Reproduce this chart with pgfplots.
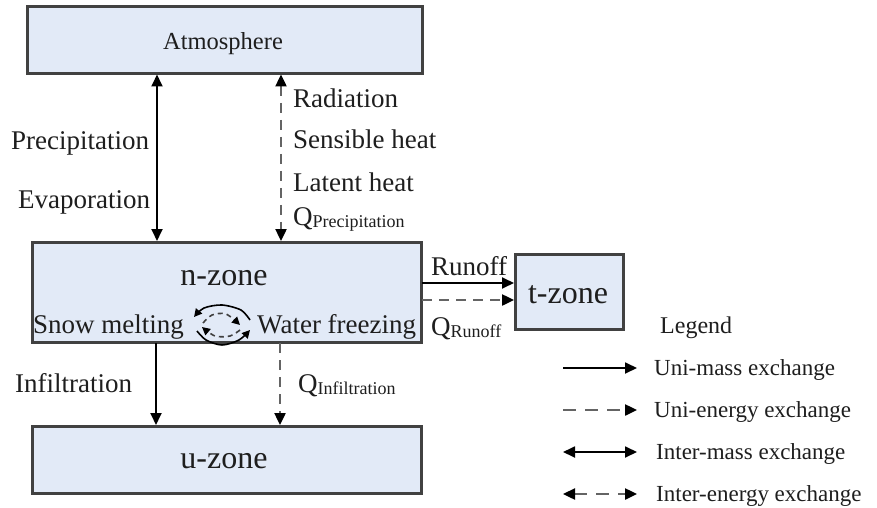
\documentclass[border=0pt]{standalone}
\usepackage{pgfplots}
\pgfplotsset{compat=1.18}
\usepackage{fontspec}
\setmainfont{Liberation Serif}
\usetikzlibrary{arrows.meta}
\definecolor{boxfill}{RGB}{226,234,247}
\definecolor{boxline}{RGB}{65,65,65}
\definecolor{txt}{RGB}{30,30,30}
\definecolor{dgray}{RGB}{100,100,100}
\newcommand\sub[1]{{\fontsize{18}{18}\selectfont\raisebox{-2.5pt}{#1}}}
\begin{document}
\begin{tikzpicture}[font=\fontsize{27}{30}\selectfont, text=txt]
\begin{axis}[width=877pt,height=508pt,scale only axis,
  xmin=0,xmax=877,ymin=0,ymax=508,y dir=reverse,hide axis,clip=false,
  every axis plot/.append style={mark=none},
  tip/.style={-{Triangle[length=12pt,width=11pt,color=black]}},
  tips/.style={{Triangle[length=12pt,width=11pt,color=black]}-{Triangle[length=12pt,width=11pt,color=black]}},
  stip/.style={-{Triangle[length=8pt,width=8pt,color=black]}},
  mass/.style={black,line width=1.8pt},
  energy/.style={dgray,line width=2.4pt,dash pattern=on 10pt off 7pt},
  legenergy/.style={dgray,line width=2.4pt,dash pattern=on 13pt off 9pt},
  zone/.style={fill=boxfill,draw=boxline,line width=3pt,line join=miter}]
% background
\addplot[fill=white,draw=none] coordinates {(0,0)(877,0)(877,508)(0,508)} -- cycle;
% boxes
\addplot[zone] coordinates {(27,7)(422,7)(422,74)(27,74)} -- cycle;
\addplot[zone] coordinates {(32,242)(421,242)(421,342)(32,342)} -- cycle;
\addplot[zone] coordinates {(32,426)(421,426)(421,493)(32,493)} -- cycle;
\addplot[zone] coordinates {(515,254)(623,254)(623,329)(515,329)} -- cycle;
% atmosphere <-> n-zone
\addplot[mass,tips] coordinates {(157,74.5)(157,241)};
\addplot[energy,tips] coordinates {(281,74.5)(281,241)};
% n-zone -> u-zone
\addplot[mass,tip] coordinates {(156,343)(156,425)};
\addplot[energy,tip] coordinates {(280,343)(280,425)};
% runoff
\addplot[mass,tip] coordinates {(422,283)(514,283)};
\addplot[energy,tip] coordinates {(422,300)(514,300)};
% phase change cycle
\addplot[black,line width=1.6pt,smooth,stip] coordinates {(250,320)(241,310)(222,305)(204,308)(194,317)};
\addplot[black,line width=1.6pt,smooth,stip] coordinates {(197,331)(206,340)(222,345)(239,340)(250,330)};
\addplot[black!75,line width=1.6pt,smooth,dash pattern=on 5pt off 4pt,stip] coordinates {(203,323)(212,315)(226,314)(240,325)};
\addplot[black!75,line width=1.6pt,smooth,dash pattern=on 5pt off 4pt,stip] coordinates {(240,330)(230,336)(215,336)(202,327)};
% legend arrows
\addplot[mass,tip] coordinates {(563,368)(637,368)};
\addplot[legenergy,tip] coordinates {(563,410)(637,410)};
\addplot[mass,tips] coordinates {(563,452)(637,452)};
\addplot[legenergy,tips] coordinates {(563,494)(637,494)};
% texts
\node[anchor=base,inner sep=0,font=\fontsize{24.5}{28}\selectfont] at (axis cs:223,50) {Atmosphere};
\node[anchor=base west,inner sep=0] at (axis cs:11,149) {Precipitation};
\node[anchor=base west,inner sep=0] at (axis cs:18,208) {Evaporation};
\node[anchor=base west,inner sep=0] at (axis cs:293,107) {Radiation};
\node[anchor=base west,inner sep=0] at (axis cs:293,148) {Sensible heat};
\node[anchor=base west,inner sep=0] at (axis cs:293,191) {Latent heat};
\node[anchor=base west,inner sep=0] at (axis cs:293,225) {Q\sub{Precipitation}};
\node[anchor=base,inner sep=0,font=\fontsize{32}{36}\selectfont] at (axis cs:224,285) {n-zone};
\node[anchor=base west,inner sep=0] at (axis cs:33,333) {Snow melting};
\node[anchor=base west,inner sep=0] at (axis cs:257,333) {Water freezing};
\node[anchor=base west,inner sep=0] at (axis cs:15,392) {Infiltration};
\node[anchor=base west,inner sep=0] at (axis cs:298,392) {Q\sub{Infiltration}};
\node[anchor=base,inner sep=0,font=\fontsize{32}{36}\selectfont] at (axis cs:224,468) {u-zone};
\node[anchor=base west,inner sep=0] at (axis cs:431,275) {Runoff};
\node[anchor=base west,inner sep=0] at (axis cs:431,335) {Q\sub{Runoff}};
\node[anchor=base,inner sep=0,font=\fontsize{32}{36}\selectfont] at (axis cs:568,303) {t-zone};
\node[anchor=base west,inner sep=0,font=\fontsize{24}{28}\selectfont] at (axis cs:660,333) {Legend};
\node[anchor=base west,inner sep=0,font=\fontsize{23}{26}\selectfont] at (axis cs:654,375) {Uni-mass exchange};
\node[anchor=base west,inner sep=0,font=\fontsize{23}{26}\selectfont] at (axis cs:654,417) {Uni-energy exchange};
\node[anchor=base west,inner sep=0,font=\fontsize{23}{26}\selectfont] at (axis cs:656,459) {Inter-mass exchange};
\node[anchor=base west,inner sep=0,font=\fontsize{23}{26}\selectfont] at (axis cs:656,501) {Inter-energy exchange};
\end{axis}
\end{tikzpicture}
\end{document}
